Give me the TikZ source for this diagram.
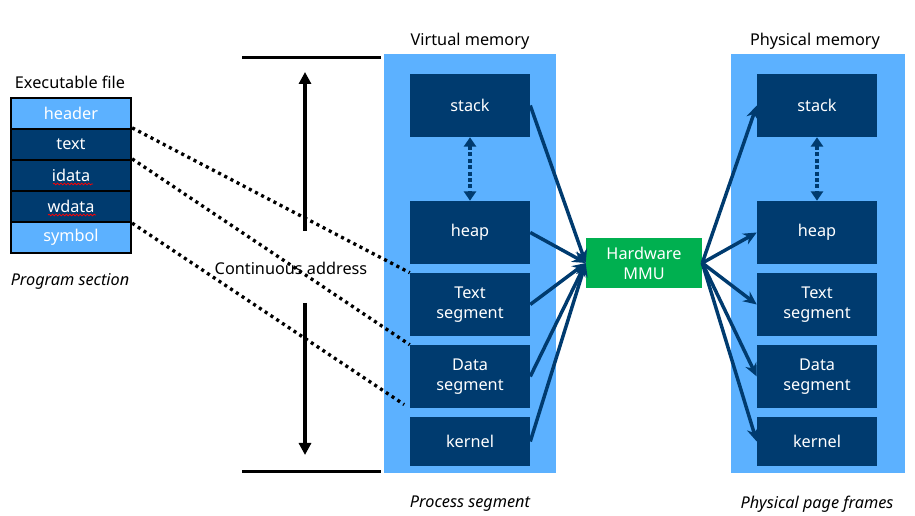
\documentclass[tikz,border=0pt]{standalone}
\usepackage{fontspec}
\setmainfont{Noto Sans}
\usetikzlibrary{arrows.meta,decorations.pathmorphing}
\definecolor{navy}{HTML}{003B6F}
\definecolor{lblue}{HTML}{5CB1FF}
\definecolor{mmugreen}{HTML}{00B050}
\begin{document}
\begin{tikzpicture}[x=0.75pt,y=-0.75pt,
  font=\fontsize{12.2}{15}\selectfont,
  contbox/.style={fill=lblue, draw=none, inner sep=0pt},
  segbox/.style={fill=navy, draw=none, text=white, align=center, inner sep=0pt,
    minimum width=90pt, minimum height=47.25pt},
  segkbox/.style={segbox, minimum height=36.75pt},
  frowbox/.style={draw=black, line width=1.7pt, text=white, inner sep=0pt,
    minimum width=90pt, minimum height=23.25pt},
  lrowbox/.style={frowbox, fill=lblue},
  drowbox/.style={frowbox, fill=navy},
  mmubox/.style={fill=mmugreen, draw=none, text=white, align=center, inner sep=0pt,
    minimum width=87pt, minimum height=37.5pt},
  lbltext/.style={text=black, inner sep=0pt},
  ilbltext/.style={lbltext, font=\fontsize{12.2}{15}\selectfont\itshape},
  maparr/.style={navy, line width=2.6pt, -{Stealth[length=10pt,width=9pt]}},
  linkdots/.style={black, line width=2.5pt, dash pattern=on 2.3pt off 2.9pt},
  growarr/.style={navy, line width=2.4pt, dash pattern=on 3pt off 1.8pt,
    {Triangle[length=7pt,width=9pt]}-{Triangle[length=7pt,width=9pt]}},
  barline/.style={black, line width=2.7pt},
  spanarr/.style={black, line width=3pt, -{Triangle[length=9pt,width=9pt]}},
  squigline/.style={red, line width=0.6pt, decorate,
    decoration={snake, amplitude=0.6pt, segment length=2.6pt}}
]
\useasboundingbox (0,0) rectangle (915,516);

% containers
\node[contbox, minimum width=129pt, minimum height=314.25pt] (vm) at (470,263.5) {};
\node[contbox, minimum width=130.5pt, minimum height=314.25pt] (pm) at (818,263.5) {};

% virtual segments
\node[segbox] (vstack) at (470,105.5) {stack};
\node[segbox] (vheap) at (470,232.5) {heap};
\node[segbox] (vtext) at (470,304.5) {Text\\segment};
\node[segbox] (vdata) at (470,376.5) {Data\\segment};
\node[segkbox] (vkernel) at (470,441.5) {kernel};

% physical segments
\node[segbox] (pstack) at (817,105.5) {stack};
\node[segbox] (pheap) at (817,232.5) {heap};
\node[segbox] (ptext) at (817,304.5) {Text\\segment};
\node[segbox] (pdata) at (817,376.5) {Data\\segment};
\node[segkbox] (pkernel) at (817,441.5) {kernel};

% MMU
\node[mmubox] (mmu) at (644,263) {Hardware\\MMU};

% executable file
\node[lrowbox] (fheader) at (71,113.5) {header};
\node[drowbox] (ftext) at (71,144.5) {text};
\node[drowbox] (fidata) at (71,175.5) {idata};
\node[drowbox] (fwdata) at (71,206.5) {wdata};
\node[lrowbox] (fsymbol) at (71,237.5) {symbol};
\draw[squigline] (53,184) -- (93,184);
\draw[squigline] (48,215) -- (96,215);

% labels
\node[lbltext] (lexe) at (70,82.5) {Executable file};
\node[ilbltext] (lprog) at (70,281.5) {Program section};
\node[lbltext] (lvm) at (470,41.5) {Virtual memory};
\node[lbltext] (lpm) at (815,41.5) {Physical memory};
\node[ilbltext] (lproc) at (470,504) {Process segment};
\node[ilbltext] (lpage) at (817,504) {Physical page frames};

% continuous address bars and arrows
\coordinate (bt1) at (242,57.5);
\coordinate (bt2) at (381,57.5);
\coordinate (bb1) at (242,471.5);
\coordinate (bb2) at (381,471.5);
\draw[barline] (bt1) -- (bt2);
\draw[barline] (bb1) -- (bb2);
\coordinate (aup0) at (305,231);
\coordinate (aup1) at (305,72);
\coordinate (adn0) at (305,303);
\coordinate (adn1) at (305,455);
\draw[spanarr] (aup0) -- (aup1);
\draw[spanarr] (adn0) -- (adn1);

% dotted links
\draw[linkdots] (ftext.north east) -- (vtext.north west);
\draw[linkdots] (fidata.north east) -- (vdata.north west);
\draw[linkdots, shorten >=5pt] (fwdata.south east) -- (vdata.south west);

\node[lbltext] (lcont) at (291,268) {Continuous address};

% stack/heap growth
\draw[growarr] (vstack.south) -- (vheap.north);
\draw[growarr] (pstack.south) -- (pheap.north);

% mapping arrows
\foreach \s in {vstack,vheap,vtext,vdata,vkernel}
  \draw[maparr] (\s.east) -- (mmu.west);
\foreach \t in {pstack,pheap,ptext,pdata,pkernel}
  \draw[maparr] (mmu.east) -- (\t.west);
\end{tikzpicture}
\end{document}
